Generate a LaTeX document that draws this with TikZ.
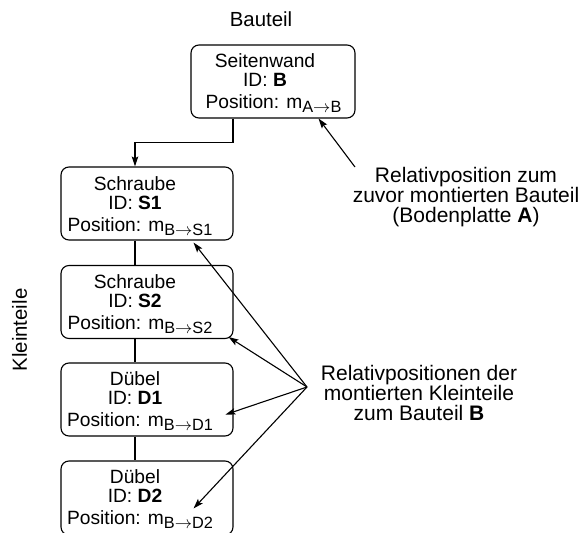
\documentclass[tikz,border=0pt]{standalone}
\usepackage{fontspec}
\setmainfont{Liberation Sans}
\usetikzlibrary{arrows.meta,calc}

% "Position: m_{X->Y}" line; optional first argument nudges the line to the right
\newcommand\posline[3][0pt]{\hspace*{#1}Position: m\raisebox{-4.5pt}{\fontsize{16.3}{16.3}\selectfont #2$\rightarrow$#3}}

\tikzset{
  part/.style={draw, line width=1.1pt, rounded corners=8pt, inner sep=0pt,
               minimum width=172pt, minimum height=73pt},
  parttext/.style={anchor=base, align=center, inner sep=0pt,
                   font=\fontsize{19.2}{19}\selectfont},
  heading/.style={inner sep=0pt, font=\fontsize{20.4}{20}\selectfont},
  caption/.style={align=center, inner sep=0pt,
                  font=\fontsize{21}{19.2}\selectfont},
  link/.style={line width=1.1pt},
  arr/.style={line width=1.1pt, -{Stealth[length=10pt,width=6.5pt,inset=2pt]}},
}

\begin{document}
\begin{tikzpicture}[x=1pt, y=-1pt]
  \useasboundingbox (0,0) rectangle (579,533);

  % headings
  \node[heading, anchor=base] (bauteil) at (261,26) {Bauteil};
  \node[heading, anchor=base, rotate=90] (kleinteile) at (27,330) {Kleinteile};

  % main part (text nodes are anchored at the baseline of their last line)
  \node[part, minimum width=164pt] (wand) at (273,81.5) {};
  \node[parttext] (wandt) at (265,108) {Seitenwand\\ID: \textbf{B}\\[3pt]\posline[17pt]{A}{B}};

  % small parts
  \node[part] (s1) at (147,203.5) {};
  \node[parttext] (s1t) at (135,231) {Schraube\\ID: \textbf{S1}\\[3pt]\posline[10pt]{B}{S1}};
  \node[part] (s2) at (147,302) {};
  \node[parttext] (s2t) at (135,329) {Schraube\\ID: \textbf{S2}\\[3pt]\posline[10pt]{B}{S2}};
  \node[part] (d1) at (147,399.5) {};
  \node[parttext] (d1t) at (135,426) {Dübel\\ID: \textbf{D1}\\[3pt]\posline[10pt]{B}{D1}};
  \node[part, minimum height=74pt] (d2) at (147,498) {};
  \node[parttext] (d2t) at (135,524) {Dübel\\ID: \textbf{D2}\\[3pt]\posline[10pt]{B}{D2}};

  % chain of parts
  \coordinate (drop) at (233,0);
  \coordinate (spine) at (135,0);
  \draw[arr] (wand.south -| drop) -- ++(0,24) -| (s1.north -| spine);
  \draw[link] (s1.south -| spine) -- (s2.north -| spine);
  \draw[link] (s2.south -| spine) -- (d1.north -| spine);
  \draw[link] (d1.south -| spine) -- (d2.north -| spine);

  % annotations
  \node[caption, anchor=base] (lab1) at (466,222)
    {Relativposition zum\\zuvor montierten Bauteil\\(Bodenplatte \textbf{A})};
  \node[caption, anchor=base] (lab2) at (419,420)
    {Relativpositionen der\\montierten Kleinteile\\zum Bauteil \textbf{B}};

  \coordinate (from1) at (355,167);
  \draw[arr] (from1) -- ($(wand.south east)+(-37,0)$);

  \coordinate (fan) at (307,387);
  \draw[arr] (fan) -- ($(s1.south east)+(-40,2)$);
  \draw[arr] (fan) -- ($(s2.south east)+(-5,-2)$);
  \draw[arr] (fan) -- ($(d1.south east)+(-8,-22)$);
  \draw[arr] (fan) -- ($(d2.north east)+(-40,48)$);
\end{tikzpicture}
\end{document}
